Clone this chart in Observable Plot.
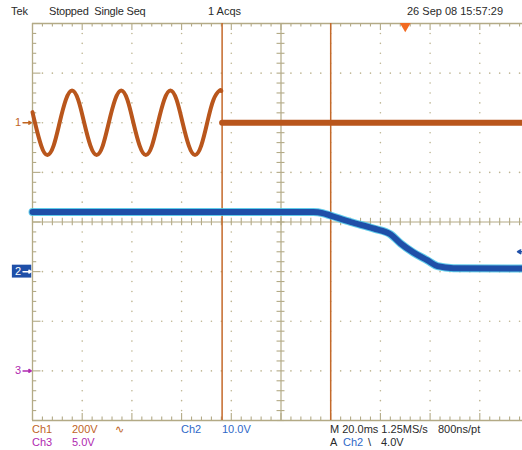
<!DOCTYPE html>
<html><head><meta charset="utf-8">
<script src="https://cdn.jsdelivr.net/npm/d3@7"></script>
<script src="https://cdn.jsdelivr.net/npm/@observablehq/plot@0.6"></script>
<style>
html,body{margin:0;padding:0;background:#fff;overflow:hidden;}
#wrap{position:relative;width:522px;height:450px;font-family:"Liberation Sans",Arial,sans-serif;font-size:11px;color:#2a2a2a;}
.hdr{position:relative;height:18px;}
.ftr{position:relative;height:28px;}
.t{position:absolute;white-space:pre;line-height:13px;}
#chart svg{display:block;overflow:hidden;}
.c1{color:#c0641f}.c2{color:#2f68c8}.c3{color:#b02ab0}
</style></head><body>
<div id="wrap">
  <div class="hdr">
    <span class="t" style="left:11px;top:5px">Tek</span>
    <span class="t" style="left:49px;top:5px;letter-spacing:-0.2px">Stopped  Single Seq</span>
    <span class="t" style="left:208px;top:5px">1 Acqs</span>
    <span class="t" style="left:407px;top:5px">26 Sep 08 15:57:29</span>
  </div>
  <div id="chart"></div>
  <div class="ftr">
    <span class="t c1" style="left:32px;top:1px">Ch1</span>
    <span class="t c1" style="left:72px;top:1px">200V</span>
    <span class="t c1" style="left:115px;top:1px">∿</span>
    <span class="t c2" style="left:181px;top:1px">Ch2</span>
    <span class="t c2" style="left:222px;top:1px">10.0V</span>
    <span class="t" style="left:330px;top:1px">M 20.0ms 1.25MS/s</span>
    <span class="t" style="left:438px;top:1px">800ns/pt</span>
    <span class="t c3" style="left:32px;top:14px">Ch3</span>
    <span class="t c3" style="left:72px;top:14px">5.0V</span>
    <span class="t" style="left:330px;top:14px">A</span>
    <span class="t c2" style="left:343px;top:14px">Ch2</span>
    <span class="t" style="left:368px;top:14px">\</span>
    <span class="t" style="left:381px;top:14px">4.0V</span>
  </div>
</div>
<script>
// ---- data (time in ms, voltage in volts) ----
const ch1Time  = [0, 1.0, 3.5, 6.0, 8.5, 10.9, 13.4, 15.9, 18.4, 20.8, 23.3, 25.8, 28.3, 30.7, 33.2, 35.7, 38.2, 40.6, 43.1, 45.6, 48.1, 50.5, 53.0, 55.5, 58.0, 60.4, 62.9, 65.4, 67.9, 70.3, 72.8, 75.3, 76.0];
const ch1Volts = [43, 0, -92, -130, -92, 0, 92, 130, 92, 0, -92, -130, -92, 0, 92, 130, 92, 0, -92, -130, -92, 0, 92, 130, 92, 0, -92, -130, -92, 0, 92, 130, 128];
const ch1HoldTime  = [76.3, 200];
const ch1HoldVolts = [0, 0];
const ch2Time  = [0, 113, 116.7, 119.9, 128, 137.2, 144.1, 148.1, 153.3, 159, 163, 169.4, 200];
const ch2Volts = [12.0, 12.0, 11.8, 11.3, 10.0, 8.7, 7.5, 5.7, 3.85, 2.25, 1.1, 0.7, 0.6];

const channelLabels  = ["1", "2", "3"];
const channelOffsets = [2, -1, -3];      // ground position in divisions
const channelVoltsDiv = [200, 10, 5];
const channelColors  = ["#b9561c", "#1f4fa8", "#b02ab0"];
const cursorTimes = [76.3, 120];
const triggerTime = 150;
const triggerLevel = 4.0;                // volts on Ch2

// ---- helpers ----
const toDiv = (v, ch) => v / channelVoltsDiv[ch] + channelOffsets[ch];
const ch1 = ch1Time.map((t, i) => ({t, y: toDiv(ch1Volts[i], 0)}));
const ch1Hold = ch1HoldTime.map((t, i) => ({t, y: toDiv(ch1HoldVolts[i], 0)}));
const ch2 = ch2Time.map((t, i) => ({t, y: toDiv(ch2Volts[i], 1)}));

const G = "#b3aa86", GD = "#bdb491";
const minorX = d3.range(0, 200.01, 4);
const minorY = d3.range(-4, 4.001, 0.2).map(v => +v.toFixed(2));
const majorX = d3.range(0, 200.01, 20);
const majorY = d3.range(-4, 4.01, 1);
const isMajX = x => Math.abs(x / 20 - Math.round(x / 20)) < 1e-6;
const isMajY = y => Math.abs(y - Math.round(y)) < 1e-6;

const dots = [];
for (const x of majorX) if (x > 0 && x < 200 && x !== 100)
  for (const y of minorY) if (y > -4 && y < 4) dots.push({x, y});
for (const y of majorY) if (y > -4 && y < 4 && y !== 0)
  for (const x of minorX) if (x > 0 && x < 200 && !isMajX(x)) dots.push({x, y});

const markers = channelLabels.map((l, i) => ({l, y: channelOffsets[i], c: i === 0 ? "#c0641f" : channelColors[i], i}));

const chart = Plot.plot({
  width: 522, height: 404,
  x: {domain: [0, 200], range: [32, 529], axis: null},
  y: {domain: [-4, 4], range: [402, 5], axis: null},
  style: {background: "white", overflow: "hidden"},
  marks: [
    // dotted graticule
    Plot.dot(dots, {x: "x", y: "y", r: 0.8, fill: GD, stroke: null}),
    // frame
    Plot.ruleX([0, 200], {y1: -4, y2: 4, stroke: G, strokeWidth: 1.3}),
    Plot.ruleY([-4, 4], {x1: 0, x2: 200, stroke: G, strokeWidth: 1.3}),
    // centre axes
    Plot.ruleX([100], {y1: -4, y2: 4, stroke: G, strokeWidth: 1.2}),
    Plot.ruleY([0], {x1: 0, x2: 200, stroke: G, strokeWidth: 1.2}),
    // edge ticks top & bottom
    Plot.ruleX(minorX, {y1: 4, y2: x => 4 - (isMajX(x) ? 0.14 : 0.07), stroke: G, strokeWidth: 1.1}),
    Plot.ruleX(minorX, {y1: -4, y2: x => -4 + (isMajX(x) ? 0.14 : 0.07), stroke: G, strokeWidth: 1.1}),
    // edge ticks left
    Plot.ruleY(minorY, {x1: 0, x2: y => (isMajY(y) ? 3.4 : 1.7), stroke: G, strokeWidth: 1.1}),
    // centre ticks
    Plot.ruleX(minorX, {y1: -0.075, y2: 0.075, stroke: G, strokeWidth: 1.1}),
    Plot.ruleY(minorY, {x1: 98.4, x2: 101.6, stroke: G, strokeWidth: 1.1}),
    // cursors
    Plot.ruleX(cursorTimes, {y1: -4, y2: 4, stroke: "#c4692a", strokeWidth: 1.5}),
    // Ch1 trace
    Plot.line(ch1, {x: "t", y: "y", curve: "natural", stroke: channelColors[0], strokeWidth: 4, strokeLinejoin: "round"}),
    Plot.line(ch1Hold, {x: "t", y: "y", stroke: channelColors[0], strokeWidth: 6}),
    // Ch2 trace (noisy band)
    Plot.line(ch2, {x: "t", y: "y", curve: "monotone-x", stroke: "#45c3e6", strokeWidth: 8, strokeOpacity: 0.85}),
    Plot.line(ch2, {x: "t", y: "y", curve: "monotone-x", stroke: channelColors[1], strokeWidth: 6}),
    // channel ground markers
    Plot.rect(markers.filter(d => d.i === 1), {x1: -8.1, x2: -0.3, y1: d => d.y - 0.13, y2: d => d.y + 0.13, fill: d => d.c}),
    Plot.text(markers, {x: -5.8, y: "y", text: "l", fill: d => d.i === 1 ? "white" : d.c, fontSize: 11, fontFamily: "Liberation Sans, Arial"}),
    Plot.arrow(markers, {x1: -3.8, x2: -0.5, y1: "y", y2: "y", stroke: d => d.i === 1 ? "white" : d.c, strokeWidth: 1.5, headLength: 4}),
    // trigger level marker (right)
    Plot.arrow([toDiv(triggerLevel, 1)], {x1: 199.5, x2: 195.2, y1: d => d, y2: d => d, stroke: channelColors[1], strokeWidth: 1.6, headLength: 4}),
    // trigger position marker (top)
    Plot.dot([triggerTime], {x: d => d, y: 4, symbol: "triangle", rotate: 180, r: 4, dy: 2.5, fill: "#f26a21", stroke: null})
  ]
});
document.getElementById("chart").append(chart);
</script>
</body></html>
